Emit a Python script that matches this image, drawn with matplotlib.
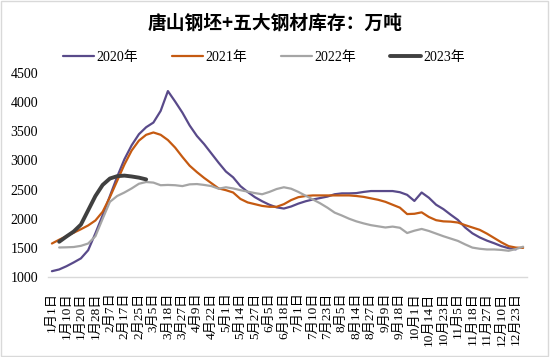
import numpy as np
import matplotlib
matplotlib.use("Agg")
import matplotlib.pyplot as plt
from matplotlib.patches import Rectangle

title = "唐山钢坯+五大钢材库存：万吨"
tick_labels = ["1月1日", "1月10日", "1月20日", "1月28日", "2月7日", "2月17日", "2月25日",
               "3月5日", "3月18日", "3月27日", "4月9日", "4月22日", "5月1日", "5月14日",
               "5月27日", "6月5日", "6月18日", "7月1日", "7月10日", "7月23日", "8月5日",
               "8月14日", "8月27日", "9月9日", "9月18日", "10月1日", "10月14日", "10月23日",
               "11月5日", "11月18日", "11月27日", "12月10日", "12月23日"]
series_names = ["2020年", "2021年", "2022年", "2023年"]

v2020 = [1100, 1130, 1185, 1250, 1320, 1460, 1750, 2060, 2390, 2720, 3020, 3260, 3450, 3570,
         3650, 3850, 4190, 4010, 3820, 3600, 3420, 3280, 3120, 2960, 2810, 2710, 2560, 2460,
         2370, 2300, 2240, 2195, 2175, 2210, 2260, 2300, 2330, 2355, 2380, 2420, 2435, 2435,
         2440, 2460, 2475, 2475, 2475, 2475, 2455, 2410, 2305, 2450, 2360, 2240, 2165, 2070,
         1980, 1850, 1750, 1680, 1625, 1580, 1530, 1495, 1475, None]
v2021 = [1575, 1640, 1700, 1760, 1820, 1885, 1970, 2120, 2370, 2650, 2930, 3170, 3340, 3440,
         3480, 3440, 3350, 3220, 3060, 2910, 2800, 2700, 2610, 2520, 2490, 2450, 2340, 2280,
         2250, 2220, 2205, 2205, 2250, 2320, 2370, 2390, 2400, 2400, 2400, 2400, 2400, 2400,
         2390, 2375, 2350, 2325, 2290, 2240, 2190, 2080, 2085, 2110, 2030, 1975, 1955, 1950,
         1935, 1890, 1850, 1810, 1745, 1670, 1595, 1530, 1505, 1500]
v2022 = [None, 1507, 1510, 1515, 1535, 1575, 1700, 2000, 2290, 2390, 2450, 2520, 2600, 2630,
         2620, 2575, 2580, 2575, 2560, 2590, 2595, 2580, 2560, 2515, 2540, 2520, 2490, 2465,
         2440, 2420, 2460, 2510, 2540, 2515, 2460, 2395, 2330, 2265, 2190, 2105, 2055, 2000,
         1955, 1920, 1890, 1870, 1850, 1865, 1845, 1755, 1795, 1825, 1790, 1745, 1700, 1660,
         1620, 1560, 1505, 1485, 1473, 1473, 1465, 1450, 1480, 1520]
v2023 = [None, 1605, 1695, 1780, 1900, 2145, 2390, 2580, 2690, 2730, 2740, 2725, 2705, 2675]

colors = ["#594a8a", "#c55a11", "#a5a5a5", "#404040"]
widths = [1.6, 1.6, 1.6, 2.8]

serif = ["Liberation Serif", "Noto Sans CJK SC"]
plt.rcParams["font.family"] = serif

fig = plt.figure(figsize=(5.5, 3.57), dpi=100)
fig.patches.append(Rectangle((0.002, 0.003), 0.995, 0.994, transform=fig.transFigure,
                             fill=False, edgecolor="#d9d9d9", linewidth=1))
ax = fig.add_axes([0.087, 0.224, 0.871, 0.5715])

for name, vals, c, w in zip(series_names, [v2020, v2021, v2022, v2023], colors, widths):
    y = np.array([np.nan if v is None else v for v in vals], dtype=float)
    x = np.arange(len(y)) * 0.5
    ax.plot(x, y, color=c, linewidth=w, label=name, solid_capstyle="round")

ax.set_ylim(1000, 4500)
ax.set_yticks(np.arange(1000, 4501, 500))
ax.set_xlim(-0.28, 32.76)
ax.set_xticks(np.arange(len(tick_labels)))
ax.set_xticklabels(tick_labels, rotation=90, fontsize=9.5, family=serif)
ax.tick_params(axis="x", length=0, pad=11)
ax.tick_params(axis="y", length=0, pad=7, labelsize=10)
for s in ["top", "right", "left"]:
    ax.spines[s].set_visible(False)
ax.spines["bottom"].set_color("#d9d9d9")
ax.spines["bottom"].set_linewidth(1)

fig.text(0.5, 0.935, title, ha="center", va="center", fontsize=13.5, fontweight="bold",
         family=["Noto Sans CJK SC"])
fig.legend(loc="center", bbox_to_anchor=(0.48, 0.84), ncol=4, frameon=False, fontsize=10,
           handlelength=2.2, handletextpad=0.15, columnspacing=2.5)

fig.savefig("out.png", dpi=100)
